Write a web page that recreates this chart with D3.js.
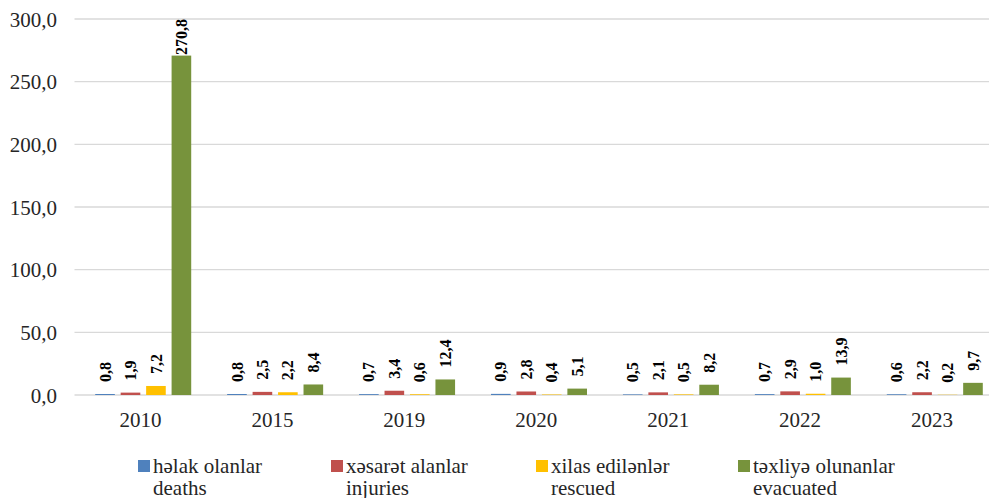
<!DOCTYPE html>
<html>
<head>
<meta charset="utf-8">
<script src="https://cdn.jsdelivr.net/npm/d3@7"></script>
<style>
  html, body { margin: 0; padding: 0; background: #fff; }
  svg { display: block; }
  svg text { font-family: "Liberation Serif", "Times New Roman", "DejaVu Serif", serif; }
</style>
</head>
<body>
<svg id="chart" width="989" height="498"></svg>
<script>
const years = ["2010", "2015", "2019", "2020", "2021", "2022", "2023"];
const deaths    = [0.8, 0.8, 0.7, 0.9, 0.5, 0.7, 0.6];
const injuries  = [1.9, 2.5, 3.4, 2.8, 2.1, 2.9, 2.2];
const rescued   = [7.2, 2.2, 0.6, 0.4, 0.5, 1.0, 0.2];
const evacuated = [270.8, 8.4, 12.4, 5.1, 8.2, 13.9, 9.7];
const seriesNames = [
  ["həlak olanlar", "deaths"],
  ["xəsarət alanlar", "injuries"],
  ["xilas edilənlər", "rescued"],
  ["təxliyə olunanlar", "evacuated"]
];
const yTicks = [0, 50, 100, 150, 200, 250, 300];
const colors = ["#4F81BD", "#C0504D", "#FFC000", "#77933C"];

const seriesValues = [deaths, injuries, rescued, evacuated];
const fmt = v => d3.format(".1f")(v).replace(".", ",");

const svg = d3.select("#chart");

const plotLeft = 74.5, plotRight = 998, plotTop = 19, plotBottom = 395;
const x = d3.scaleBand().domain(years).range([plotLeft, plotRight]).paddingInner(0).paddingOuter(0);
const y = d3.scaleLinear().domain([0, 300]).range([plotBottom, plotTop]);

const barW = 18.5, barStep = 24;
const groupW = barStep * 3 + barW;
const xs = d3.scaleBand().domain(d3.range(4))
  .range([(x.bandwidth() - groupW) / 2, (x.bandwidth() - groupW) / 2 + barStep * 4])
  .paddingInner((barStep - barW) / barStep).paddingOuter(0).align(0);

// gridlines
svg.append("g").selectAll("line").data(yTicks).join("line")
  .attr("x1", plotLeft).attr("x2", plotRight)
  .attr("y1", d => y(d)).attr("y2", d => y(d))
  .attr("stroke", "#d9d9d9").attr("stroke-width", 1.3);

// y axis labels
const yAxis = d3.axisLeft(y).tickValues(yTicks).tickFormat(fmt).tickSize(0).tickPadding(0);
const yg = svg.append("g").attr("transform", `translate(57,0)`).call(yAxis);
yg.select(".domain").remove();
yg.attr("font-family", null).attr("font-size", null);
yg.selectAll("text").attr("font-size", 21).attr("fill", "#262626").attr("dy", "0.34em");

// x axis labels
const xAxis = d3.axisBottom(x).tickSize(0).tickPadding(0);
const xg = svg.append("g").attr("transform", `translate(0,${plotBottom})`).call(xAxis);
xg.select(".domain").remove();
xg.attr("font-family", null).attr("font-size", null);
xg.selectAll("text").attr("font-size", 21).attr("fill", "#262626").attr("dy", "0").attr("y", 32);

// bars
const data = [];
years.forEach((yr, i) => seriesValues.forEach((vals, s) => data.push({ yr, s, v: vals[i] })));

svg.append("g").selectAll("rect").data(data).join("rect")
  .attr("x", d => x(d.yr) + xs(d.s))
  .attr("width", xs.bandwidth())
  .attr("y", d => y(d.v))
  .attr("height", d => y(0) - y(d.v))
  .attr("fill", d => colors[d.s]);

// value labels
const lbl = svg.append("g").selectAll("text").data(data).join("text")
  .attr("font-size", 16).attr("font-weight", "bold")
  .attr("fill", "#000")
  .attr("text-anchor", "start")
  .attr("dy", "0.35em")
  .text(d => fmt(d.v));
lbl.each(function(d) {
  const len = this.getComputedTextLength();
  const cx = x(d.yr) + xs(d.s) + xs.bandwidth() / 2;
  let bottom = y(d.v) - 12;
  if (bottom - len < plotTop) bottom = plotTop + len;
  d3.select(this).attr("transform", `translate(${cx},${bottom}) rotate(-90)`);
});

// legend
const legendX = [138, 331, 536, 738];
const lg = svg.append("g").selectAll("g").data(seriesNames).join("g")
  .attr("transform", (d, i) => `translate(${legendX[i]},0)`);
lg.append("rect").attr("x", 0).attr("y", 460).attr("width", 12).attr("height", 12)
  .attr("fill", (d, i) => colors[i]);
lg.append("text").attr("x", 15).attr("y", 473)
  .attr("font-size", 21).attr("fill", "#262626")
  .text(d => d[0]);
lg.append("text").attr("x", 15).attr("y", 495)
  .attr("font-size", 21).attr("fill", "#262626")
  .text(d => d[1]);
</script>
</body>
</html>
